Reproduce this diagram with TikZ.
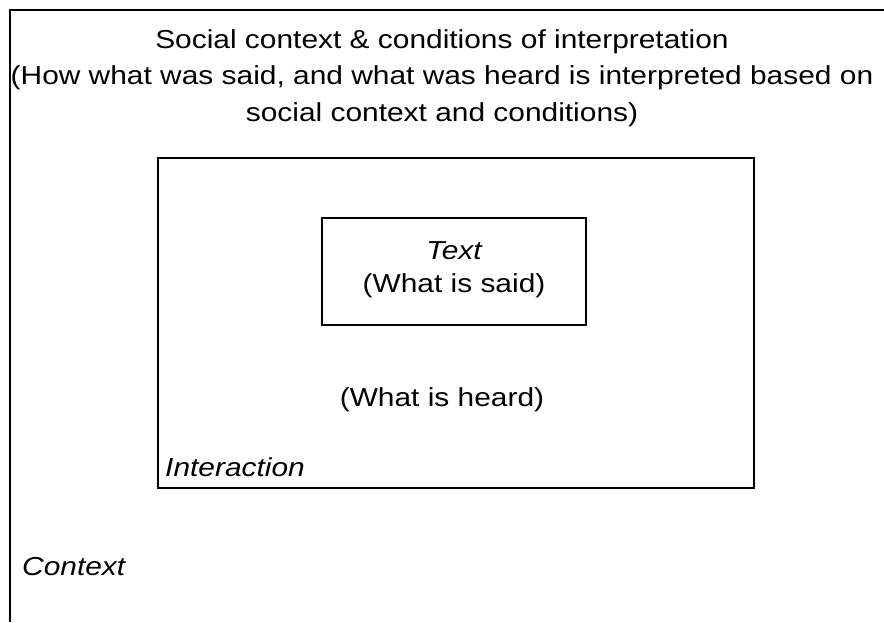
\documentclass[tikz,border=0pt]{standalone}
\usepackage{fontspec}
\setmainfont[FakeStretch=1.15]{Liberation Sans}
\usetikzlibrary{positioning}

\tikzset{
  frame/.style={draw, line width=1.6pt, rectangle, inner sep=0pt},
  label text/.style={font=\fontsize{26}{33}\selectfont, inner sep=0pt},
}

\begin{document}
\begin{tikzpicture}[x=1pt, y=-1pt]
  \useasboundingbox (0,0) rectangle (884,622);

  % Outer frame (context), cut off at right and bottom
  \coordinate (ctxtr) at (884,10);
  \coordinate (ctxtl) at (10,10);
  \coordinate (ctxbl) at (10,622);
  \draw[line width=1.6pt] (ctxtr) -- (ctxtl) -- (ctxbl);

  % Heading
  \node[label text, font=\fontsize{26}{36.5}\selectfont, align=center] (social) at (442,78)
    {Social context \& conditions of interpretation\\
     (How what was said, and what was heard is interpreted based on\\
     social context and conditions)};

  % Boxes
  \node[frame, minimum width=596pt, minimum height=330pt] (interaction) at (456,323) {};
  \node[frame, minimum width=264pt, minimum height=107pt] (textbox) at (454,271.5) {};
  \node[label text, align=center] (said) at ([yshift=2pt]textbox.center)
    {\itshape Text\\(What is said)};

  % Labels
  \node[label text] (heard) at (442,400) {(What is heard)};
  \node[label text, anchor=west] (interlabel) at (165,467) {\itshape Interaction};
  \node[label text, anchor=west] (context) at (22,567) {\itshape Context};
\end{tikzpicture}
\end{document}
